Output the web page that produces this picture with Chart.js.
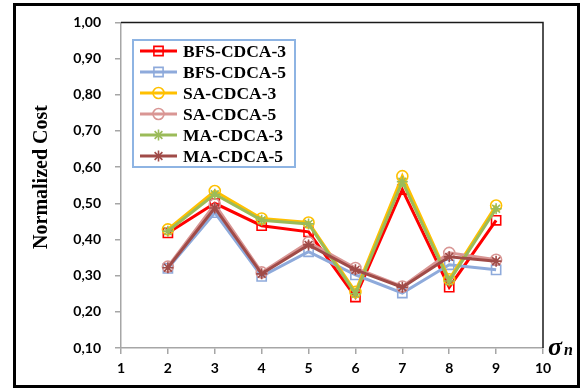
<!DOCTYPE html>
<html>
<head>
<meta charset="utf-8">
<script src="https://cdn.jsdelivr.net/npm/chart.js@4/dist/chart.umd.min.js"></script>
<style>
  html, body { margin: 0; padding: 0; background: #fff; }
  #wrap { width: 580px; height: 389px; position: relative; }
</style>
</head>
<body>
<div id="wrap"><canvas id="c" width="580" height="389"></canvas></div>
<script>
// sigma_n values on the x axis
const sigmaValues = [2, 3, 4, 5, 6, 7, 8, 9];

// normalized cost per algorithm
const bfsCdca3 = [0.418, 0.500, 0.438, 0.421, 0.241, 0.538, 0.268, 0.453];
const bfsCdca5 = [0.320, 0.474, 0.298, 0.366, 0.302, 0.252, 0.330, 0.316];
const saCdca3  = [0.428, 0.534, 0.458, 0.447, 0.255, 0.575, 0.290, 0.494];
const saCdca5  = [0.325, 0.497, 0.309, 0.392, 0.321, 0.270, 0.363, 0.344];
const maCdca3  = [0.423, 0.525, 0.453, 0.443, 0.250, 0.560, 0.285, 0.485];
const maCdca5  = [0.322, 0.487, 0.305, 0.385, 0.316, 0.268, 0.352, 0.340];

const seriesNames = ['BFS-CDCA-3', 'BFS-CDCA-5', 'SA-CDCA-3', 'SA-CDCA-5', 'MA-CDCA-3', 'MA-CDCA-5'];

const yTickLabels = ['0,10', '0,20', '0,30', '0,40', '0,50', '0,60', '0,70', '0,80', '0,90', '1,00'];
const xTickLabels = ['1', '2', '3', '4', '5', '6', '7', '8', '9', '10'];

const styles = [
  { color: '#ff0000', point: 'rect',   radius: 6.5 },
  { color: '#8eaadb', point: 'rect',   radius: 6.5 },
  { color: '#ffc000', point: 'circle', radius: 5.5 },
  { color: '#d99694', point: 'circle', radius: 5.5 },
  { color: '#9bbb59', point: 'star',   radius: 5.5 },
  { color: '#a04b48', point: 'star',   radius: 5.5 }
];

const seriesValues = [bfsCdca3, bfsCdca5, saCdca3, saCdca5, maCdca3, maCdca5];

const datasets = seriesValues.map((vals, i) => ({
  label: seriesNames[i],
  data: vals.map((v, j) => ({ x: sigmaValues[j], y: v })),
  borderColor: styles[i].color,
  backgroundColor: 'rgba(0,0,0,0)',
  borderWidth: 3,
  pointStyle: styles[i].point,
  pointRadius: styles[i].radius,
  pointBorderWidth: 1.6,
  pointBorderColor: styles[i].color,
  pointBackgroundColor: 'rgba(0,0,0,0)',
  tension: 0,
  order: seriesValues.length - i
}));

const tickFont = { family: 'Lato', size: 14, weight: 'bold' };

// frame, axis captions and in-plot legend
const decorations = {
  id: 'decorations',
  afterDraw(chart) {
    const ctx = chart.ctx;
    const a = chart.chartArea;
    ctx.save();

    // outer frame
    ctx.strokeStyle = '#000';
    ctx.lineWidth = 3;
    ctx.strokeRect(14.5, 4.5, 564, 382);

    // plot area top and right edges
    ctx.strokeStyle = '#1a1a1a';
    ctx.lineWidth = 1.5;
    ctx.beginPath();
    ctx.moveTo(a.left, a.top);
    ctx.lineTo(a.right, a.top);
    ctx.lineTo(a.right, a.bottom);
    ctx.stroke();

    // y axis caption
    ctx.fillStyle = '#000';
    ctx.font = 'bold 20px "Liberation Serif"';
    ctx.textAlign = 'center';
    ctx.textBaseline = 'middle';
    ctx.translate(42, 177);
    ctx.rotate(-Math.PI / 2);
    ctx.fillText('Normalized Cost', 0, 0);
    ctx.setTransform(1, 0, 0, 1, 0, 0);

    // x axis caption: sigma_n
    ctx.textAlign = 'left';
    ctx.textBaseline = 'alphabetic';
    ctx.font = 'italic bold 26px "Liberation Serif"';
    ctx.fillText('σ', 548, 355);
    ctx.font = 'italic bold 16px "Liberation Serif"';
    ctx.fillText('n', 564, 355);

    // legend
    const lx = 133, ly = 40, lw = 162, lh = 127;
    ctx.fillStyle = '#fff';
    ctx.fillRect(lx, ly, lw, lh);
    ctx.strokeStyle = '#8eb4e3';
    ctx.lineWidth = 2;
    ctx.strokeRect(lx, ly, lw, lh);
    ctx.font = 'bold 17.5px "Liberation Serif"';
    ctx.textBaseline = 'middle';
    chart.data.datasets.forEach((ds, i) => {
      const y = 51 + i * 21;
      ctx.strokeStyle = ds.borderColor;
      ctx.lineWidth = 3;
      ctx.beginPath();
      ctx.moveTo(140, y);
      ctx.lineTo(177, y);
      ctx.stroke();
      ctx.lineWidth = 1.6;
      ctx.fillStyle = 'rgba(0,0,0,0)';
      Chart.helpers.drawPoint(ctx, {
        pointStyle: ds.pointStyle,
        radius: ds.pointRadius,
        rotation: 0,
        borderWidth: 1.6
      }, 158.5, y);
      ctx.fillStyle = '#000';
      ctx.fillText(ds.label, 183, y + 1);
    });

    ctx.restore();
  }
};

new Chart(document.getElementById('c'), {
  type: 'line',
  data: { datasets },
  options: {
    responsive: false,
    animation: false,
    devicePixelRatio: 1,
    layout: { padding: { left: 0, top: 20, right: 37, bottom: 0 } },
    plugins: {
      legend: { display: false },
      tooltip: { enabled: false }
    },
    scales: {
      x: {
        type: 'linear',
        min: 1,
        max: 10,
        afterFit: s => { s.height = 41; },
        ticks: {
          stepSize: 1,
          color: '#000',
          font: tickFont,
          padding: 6,
          callback: v => xTickLabels[Math.round(v) - 1]
        },
        grid: { drawOnChartArea: false, drawTicks: true, tickLength: 6, color: '#a6a6a6', lineWidth: 1.5 },
        border: { display: true, color: '#a6a6a6', width: 1.5 }
      },
      y: {
        min: 0.1,
        max: 1.0,
        afterFit: s => { s.width = 121; },
        ticks: {
          stepSize: 0.1,
          color: '#000',
          font: tickFont,
          padding: 14,
          callback: v => yTickLabels[Math.round(v * 10) - 1]
        },
        grid: { drawOnChartArea: false, drawTicks: true, tickLength: 6, color: '#a6a6a6', lineWidth: 1.5 },
        border: { display: true, color: '#a6a6a6', width: 1.5 }
      }
    }
  },
  plugins: [decorations]
});
</script>
</body>
</html>
